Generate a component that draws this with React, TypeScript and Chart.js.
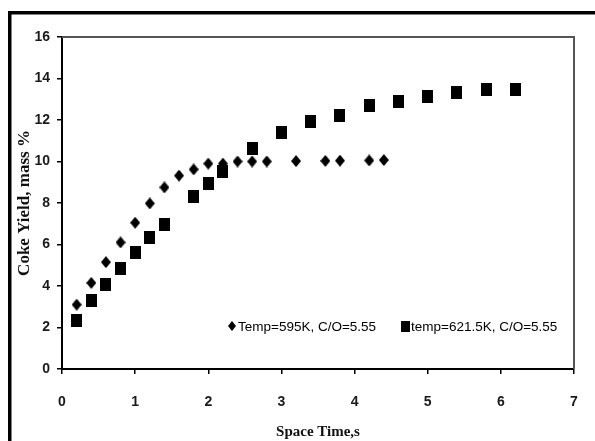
import { useEffect, useRef } from "react";
import { Chart, registerables } from "chart.js";

Chart.register(...registerables);

// Temp = 595 K, C/O = 5.55
const spaceTime595 = [0.2, 0.4, 0.6, 0.8, 1.0, 1.2, 1.4, 1.6, 1.8, 2.0, 2.2, 2.4, 2.6, 2.8, 3.2, 3.6, 3.8, 4.2, 4.4];
const yield595 = [3.1, 4.15, 5.15, 6.1, 7.05, 7.98, 8.75, 9.32, 9.62, 9.9, 9.9, 10.0, 10.0, 10.0, 10.02, 10.03, 10.04, 10.05, 10.07];

// temp = 621.5 K, C/O = 5.55
const spaceTime621 = [0.2, 0.4, 0.6, 0.8, 1.0, 1.2, 1.4, 1.8, 2.0, 2.2, 2.6, 3.0, 3.4, 3.8, 4.2, 4.6, 5.0, 5.4, 5.8, 6.2];
const yield621 = [2.33, 3.29, 4.05, 4.85, 5.62, 6.35, 6.94, 8.3, 8.95, 9.54, 10.63, 11.4, 11.92, 12.24, 12.72, 12.88, 13.12, 13.33, 13.45, 13.48];

const seriesLabels = ["Temp=595K, C/O=5.55", "temp=621.5K, C/O=5.55"];
const xTitle = "Space Time,s";
const yTitle = "Coke Yield, mass %";
const xMin = 0, xMax = 7, xStep = 1;
const yMin = 0, yMax = 16, yStep = 2;

function makeSquare(w: number, h: number) {
  const c = document.createElement("canvas");
  c.width = w; c.height = h;
  const g = c.getContext("2d")!;
  g.fillStyle = "#000";
  g.fillRect(0, 0, w, h);
  return c;
}

function makeDiamond(w: number, h: number) {
  const c = document.createElement("canvas");
  c.width = w; c.height = h;
  const g = c.getContext("2d")!;
  g.fillStyle = "#000";
  g.beginPath();
  g.moveTo(w / 2, 0);
  g.lineTo(w, h / 2);
  g.lineTo(w / 2, h);
  g.lineTo(0, h / 2);
  g.closePath();
  g.fill();
  return c;
}

export default function App() {
  const ref = useRef<HTMLCanvasElement | null>(null);

  useEffect(() => {
    if (!ref.current) return;
    const diamond = makeDiamond(10, 12);
    const square = makeSquare(11, 13);
    const legDiamond = makeDiamond(8, 10);
    const legSquare = makeSquare(9, 11);

    const framePlugin = {
      id: "frame",
      beforeDraw(chart: any) {
        const { ctx, width, height } = chart;
        ctx.save();
        ctx.fillStyle = "#fff";
        ctx.fillRect(0, 0, width, height);
        ctx.fillStyle = "#000";
        ctx.fillRect(8, 11, 3.5, height - 11);
        ctx.fillRect(8, 11, width - 8, 3.5);
        ctx.restore();
      },
      afterDraw(chart: any) {
        const { ctx, chartArea: a } = chart;
        ctx.save();
        ctx.strokeStyle = "#555";
        ctx.lineWidth = 2;
        ctx.beginPath();
        ctx.moveTo(a.left, a.top);
        ctx.lineTo(a.right, a.top);
        ctx.lineTo(a.right, a.bottom);
        ctx.stroke();
        // legend inside the plot area
        const ds = chart.data.datasets;
        const y = a.bottom - 43;
        const items = [
          { x: a.left + 170, img: legDiamond, label: ds[0].label },
          { x: a.left + 343, img: legSquare, label: ds[1].label },
        ];
        ctx.font = "13.5px 'Liberation Sans'";
        ctx.fillStyle = "#000";
        ctx.textBaseline = "middle";
        ctx.textAlign = "left";
        for (const it of items) {
          ctx.drawImage(it.img, it.x - it.img.width / 2, y - it.img.height / 2);
          ctx.fillText(it.label, it.x + 6, y + 1);
        }
        ctx.restore();
      },
    };

    const chart = new Chart(ref.current, {
      type: "scatter",
      data: {
        datasets: [
          {
            label: seriesLabels[0],
            data: spaceTime595.map((x, i) => ({ x, y: yield595[i] })),
            pointStyle: diamond as any,
            pointRadius: 6,
            backgroundColor: "#000",
            borderColor: "#000",
          },
          {
            label: seriesLabels[1],
            data: spaceTime621.map((x, i) => ({ x, y: yield621[i] })),
            pointStyle: square as any,
            pointRadius: 7,
            backgroundColor: "#000",
            borderColor: "#000",
          },
        ],
      },
      options: {
        animation: false,
        responsive: false,
        layout: { padding: { top: 37, right: 21, left: 0, bottom: 0 } },
        plugins: {
          legend: { display: false },
          tooltip: { enabled: false },
        },
        scales: {
          x: {
            type: "linear",
            min: xMin,
            max: xMax,
            afterFit: (s: any) => { s.height = 72; s.paddingLeft = 0; s.paddingRight = 0; },
            ticks: {
              stepSize: xStep,
              padding: 20,
              color: "#1a1a1a",
              font: { family: "'Liberation Sans'", size: 14, weight: "bold" },
            },
            grid: { drawOnChartArea: false, drawTicks: true, tickLength: 5, color: "#000", lineWidth: 1.5 },
            border: { display: true, color: "#000", width: 2 },
            title: {
              display: true,
              text: xTitle,
              color: "#111",
              font: { family: "'Liberation Serif'", size: 15, weight: "bold" },
              padding: { top: 1, bottom: 0 },
            },
          },
          y: {
            type: "linear",
            min: yMin,
            max: yMax,
            afterFit: (s: any) => { s.width = 62; s.paddingTop = 0; s.paddingBottom = 0; },
            ticks: {
              stepSize: yStep,
              padding: 7,
              color: "#1a1a1a",
              font: { family: "'Liberation Sans'", size: 14, weight: "bold" },
            },
            grid: { drawOnChartArea: false, drawTicks: true, tickLength: 5, color: "#000", lineWidth: 1.5 },
            border: { display: true, color: "#000", width: 2 },
            title: {
              display: true,
              text: yTitle,
              color: "#111",
              font: { family: "'Liberation Serif'", size: 17, weight: "bold" },
              padding: { top: 14, bottom: 0 },
            },
          },
        },
      },
      plugins: [framePlugin],
    });
    return () => chart.destroy();
  }, []);

  return (
    <div style={{ position: "fixed", left: 0, top: 0, width: 595, height: 441, background: "#fff" }}>
      <canvas ref={ref} width={595} height={441} style={{ display: "block", width: 595, height: 441 }} />
    </div>
  );
}
